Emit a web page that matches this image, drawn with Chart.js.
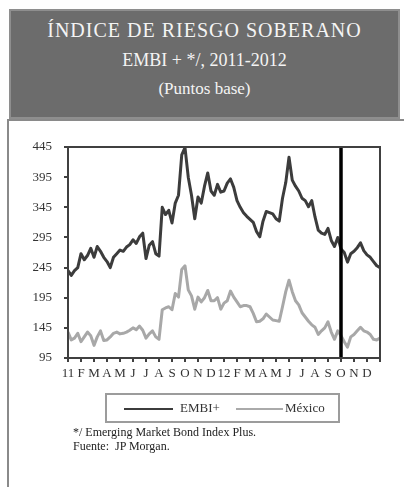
<!DOCTYPE html>
<html>
<head>
<meta charset="utf-8">
<script src="https://cdn.jsdelivr.net/npm/chart.js@4/dist/chart.umd.min.js"></script>
<style>
  html, body { margin: 0; padding: 0; background: #fff; }
  body { width: 404px; height: 487px; position: relative; overflow: hidden; font-family: "Liberation Serif", "DejaVu Serif", serif; }
  #chart { position: absolute; left: 0; top: 0; }
  .header { position: absolute; left: 9px; top: 9px; width: 387px; height: 106px; background: #6c6c6c; border: 2px solid #8e8e8e; }
  .hline { position: absolute; left: 0; width: 100%; text-align: center; color: #f4f4f4; white-space: nowrap; }
  .frame { position: absolute; left: 7px; top: 119px; width: 400px; height: 380px; border-left: 2px solid #8a8a8a; border-top: 2px solid #8a8a8a; }
  .legend { position: absolute; left: 105px; top: 393px; width: 231px; height: 26px; border: 2px solid #9c9c9c; font-size: 13px; color: #333; }
  .legend span { position: absolute; top: 5px; }
  .swatch { position: absolute; top: 13px; height: 2px; }
  .note { position: absolute; left: 73px; font-size: 12px; color: #222; white-space: nowrap; }
</style>
</head>
<body>
<div class="frame"></div>
<canvas id="chart" width="404" height="487"></canvas>
<div class="header">
  <div class="hline" style="top:8px;font-size:20px;letter-spacing:1px;">ÍNDICE DE RIESGO SOBERANO</div>
  <div class="hline" style="top:39px;font-size:18px;">EMBI + */, 2011-2012</div>
  <div class="hline" style="top:68px;font-size:17px;">(Puntos base)</div>
</div>
<div class="legend">
  <div class="swatch" style="left:17px;width:49px;background:#3c3c3c;"></div>
  <span style="left:73px;">EMBI+</span>
  <div class="swatch" style="left:129px;width:47px;background:#aaaaaa;"></div>
  <span style="left:178px;">México</span>
</div>
<div class="note" style="top:425px;">*/ Emerging Market Bond Index Plus.</div>
<div class="note" style="top:439px;">Fuente:&nbsp; JP Morgan.</div>
<script>
// month tick labels, Jan 2011 .. Dec 2012
const monthLabels = ['11','F','M','A','M','J','J','A','S','O','N','D',
                     '12','F','M','A','M','J','J','A','S','O','N','D'];
const yTicks = [95, 145, 195, 245, 295, 345, 395, 445];
// roughly weekly readings (4 per month)
const weekStep = 0.25;
const embi = [240,232,240,245,268,258,265,277,262,280,
              272,262,255,245,262,268,274,272,279,283,
              291,285,296,302,260,282,288,268,264,345,
              333,340,319,352,365,432,444,395,365,326,
              362,352,380,402,372,365,383,370,372,385,
              392,378,356,345,336,330,325,320,305,296,
              322,338,336,334,326,322,360,386,428,390,
              380,372,360,356,346,356,329,307,302,300,
              310,290,280,295,276,270,254,268,272,278,
              286,273,266,262,255,248,245];
const mexico = [138,125,128,136,122,130,138,132,116,130,
                140,124,125,130,136,138,135,136,138,141,
                145,142,148,141,128,135,140,130,126,175,
                178,180,175,202,196,242,248,208,198,176,
                196,188,195,207,190,190,195,176,186,190,
                206,196,188,180,182,182,180,169,155,156,
                160,168,163,158,157,156,180,205,224,205,
                190,183,170,163,156,150,146,134,140,145,
                155,138,126,140,132,122,113,130,134,140,
                146,140,138,134,126,125,128];
const markerMonth = 21; // October 2012

const toPoints = arr => arr.map((v, i) => ({ x: i * weekStep, y: v }));

const frame = {
  id: 'frame',
  afterDatasetsDraw(chart) {
    const { ctx, chartArea: a } = chart;
    ctx.save();
    ctx.strokeStyle = '#404040';
    ctx.lineWidth = 2;
    ctx.strokeRect(a.left, a.top, a.right - a.left, a.bottom - a.top);
    ctx.restore();
  }
};

const axisFont = { family: 'Liberation Serif', size: 13 };

new Chart(document.getElementById('chart'), {
  type: 'line',
  data: {
    datasets: [
      {
        label: 'corte',
        data: [{ x: markerMonth, y: yTicks[0] }, { x: markerMonth, y: yTicks[yTicks.length - 1] }],
        borderColor: '#000',
        borderWidth: 3.5,
        pointRadius: 0
      },
      {
        label: 'EMBI+',
        data: toPoints(embi),
        borderColor: '#3c3c3c',
        borderWidth: 3,
        pointRadius: 0,
        tension: 0,
        borderJoinStyle: 'round'
      },
      {
        label: 'México',
        data: toPoints(mexico),
        borderColor: '#a8a8a8',
        borderWidth: 3,
        pointRadius: 0,
        tension: 0,
        borderJoinStyle: 'round'
      }
    ]
  },
  options: {
    responsive: false,
    animation: false,
    devicePixelRatio: 1,
    layout: { padding: { left: 0, top: 147, right: 24, bottom: 99 } },
    plugins: { legend: { display: false }, tooltip: { enabled: false } },
    scales: {
      x: {
        type: 'linear',
        min: 0,
        max: monthLabels.length,
        afterFit: s => { s.height = 30; },
        afterBuildTicks: s => { s.ticks = monthLabels.map((_, i) => ({ value: i })).concat([{ value: monthLabels.length }]); },
        ticks: {
          autoSkip: false,
          maxRotation: 0,
          padding: 4,
          color: '#333',
          font: axisFont,
          callback: v => monthLabels[v] || ''
        },
        grid: { drawOnChartArea: false, drawTicks: true, tickLength: 4, color: '#404040', lineWidth: 2 },
        border: { display: true, color: '#404040', width: 2 }
      },
      y: {
        min: yTicks[0],
        max: yTicks[yTicks.length - 1],
        afterFit: s => { s.width = 68; },
        afterBuildTicks: s => { s.ticks = yTicks.map(v => ({ value: v })); },
        ticks: { padding: 12, color: '#333', font: axisFont },
        grid: { drawOnChartArea: false, drawTicks: true, tickLength: 4, color: '#404040', lineWidth: 2 },
        border: { display: true, color: '#404040', width: 2 }
      }
    }
  },
  plugins: [frame]
});
</script>
</body>
</html>
